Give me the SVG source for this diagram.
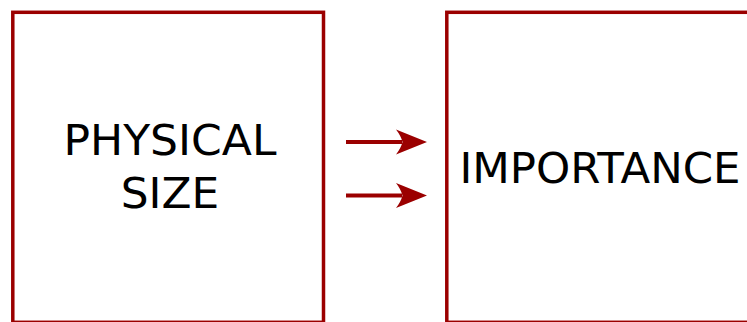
<svg xmlns="http://www.w3.org/2000/svg" width="747" height="322" viewBox="0 0 747 322">
  <style>
    .box { fill: #ffffff; stroke: #9b0000; stroke-width: 3.5; }
    .lbl { font-family: "DejaVu Sans", "Liberation Sans", sans-serif; font-size: 42px; fill: #000000; text-anchor: middle; }
    .conn { stroke: #9b0000; stroke-width: 4; fill: none; }
    .head { fill: #9b0000; }
  </style>
  <rect x="0" y="0" width="747" height="322" fill="#ffffff"/>
  <g id="node-physical-size">
    <rect class="box" x="12.8" y="12.3" width="310.7" height="310"/>
    <text class="lbl" x="170" y="154.5" textLength="213" lengthAdjust="spacingAndGlyphs">PHYSICAL</text>
    <text class="lbl" x="170" y="208" textLength="98.5" lengthAdjust="spacingAndGlyphs">SIZE</text>
  </g>
  <g id="node-importance">
    <rect class="box" x="446.8" y="12.3" width="310" height="310"/>
    <text class="lbl" x="600" y="183" textLength="281" lengthAdjust="spacingAndGlyphs">IMPORTANCE</text>
  </g>
  <g id="connectors">
    <line class="conn" x1="346" y1="142" x2="402" y2="142"/>
    <path class="head" d="M427,142 L396,129.5 Q401,136 402.5,142 Q401,148 396,154.5 Z"/>
    <line class="conn" x1="346" y1="195.5" x2="402" y2="195.5"/>
    <path class="head" d="M427,195.5 L396,183 Q401,189.5 402.5,195.5 Q401,201.5 396,208 Z"/>
  </g>
</svg>
